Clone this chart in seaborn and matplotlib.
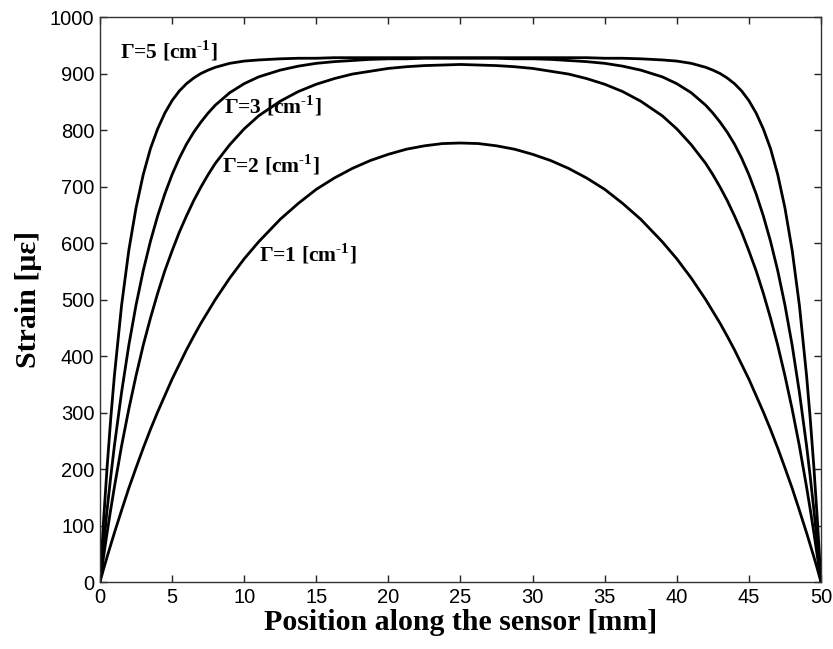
import matplotlib
matplotlib.use("Agg")
import matplotlib.pyplot as plt
import seaborn as sns

# -------------------------------
# Data
# -------------------------------
position_mm = [0, 0.25, 0.5, 0.75, 1, 1.5, 2, 2.5, 3, 3.5, 4, 4.5, 5, 5.5, 6, 6.5, 7, 7.5, 8, 9, 10, 11,
               12.5, 13.75, 15, 16.25, 17.5, 18.75, 20, 21.25, 22.5, 23.75,
               25,
               26.25, 27.5, 28.75, 30, 31.25, 32.5, 33.75, 35, 36.25, 37.5, 39, 40, 41, 42, 42.5, 43,
               43.5, 44, 44.5, 45, 45.5, 46, 46.5, 47, 47.5, 48, 48.5, 49, 49.25, 49.5, 49.75, 50]

strain_g5 = [0, 109, 205, 290, 365, 490, 587, 662, 721, 767, 802, 830, 852, 869, 882, 892, 900, 906, 911, 918,
             922, 924, 926, 927, 927, 928, 928, 928, 928, 928, 928, 928,
             928,
             928, 928, 928, 928, 928, 928, 928, 927, 927, 926, 924, 922, 918, 911, 906, 900,
             892, 882, 869, 852, 830, 802, 767, 721, 662, 587, 490, 365, 290, 205, 109, 0]

strain_g3 = [0, 67, 129, 187, 241, 336, 419, 490, 551, 603, 648, 687, 721, 750, 775, 796, 814, 830, 844, 866,
             882, 894, 906, 913, 918, 921, 923, 925, 926, 926, 927, 927,
             927,
             927, 927, 926, 926, 925, 923, 921, 918, 913, 906, 894, 882, 866, 844, 830, 814,
             796, 775, 750, 721, 687, 648, 603, 551, 490, 419, 336, 241, 187, 129, 67, 0]

strain_g2 = [0, 45, 88, 129, 168, 241, 306, 365, 419, 467, 511, 551, 586, 619, 648, 675, 699, 721, 741, 774,
             802, 825, 851, 868, 881, 891, 899, 904, 909, 912, 914, 915,
             916,
             915, 914, 912, 909, 904, 899, 891, 881, 868, 851, 825, 802, 774, 741, 721, 699,
             675, 648, 619, 586, 551, 511, 467, 419, 365, 306, 241, 168, 129, 88, 45, 0]

strain_g1 = [0, 23, 45, 66, 87, 127, 166, 202, 237, 270, 301, 330, 359, 385, 411, 435, 458, 479, 500, 538,
             572, 602, 642, 670, 695, 715, 732, 746, 757, 766, 772, 776,
             777,
             776, 772, 766, 757, 746, 732, 715, 695, 670, 642, 602, 572, 538, 500, 479, 458,
             435, 411, 385, 359, 330, 301, 270, 237, 202, 166, 127, 87, 66, 45, 23, 0]

curve_labels = ["\u0393=5 [cm$^{\\text{-1}}$]",
                "\u0393=3 [cm$^{\\text{-1}}$]",
                "\u0393=2 [cm$^{\\text{-1}}$]",
                "\u0393=1 [cm$^{\\text{-1}}$]"]
label_x = [1.4, 8.6, 8.45, 11.0]
label_y = [940, 842, 738, 580]

x_ticks = list(range(0, 51, 5))
y_ticks = list(range(0, 1001, 100))

# -------------------------------
# Style
# -------------------------------
sns.set_style("ticks")
plt.rcParams["font.family"] = ["Liberation Sans", "DejaVu Sans"]
plt.rcParams["text.color"] = "black"
plt.rcParams["axes.labelcolor"] = "black"
plt.rcParams["mathtext.fontset"] = "custom"
plt.rcParams["mathtext.rm"] = "Liberation Serif:bold"

fig = plt.figure(figsize=(8.33, 6.49), dpi=100)
ax = fig.add_axes([0.120, 0.1032, 0.8656, 0.8706])

for vals in [strain_g5, strain_g3, strain_g2, strain_g1]:
    sns.lineplot(x=position_mm, y=vals, color="black", linewidth=2.0, ax=ax)

serif_bold = dict(family=["Liberation Serif", "DejaVu Serif"], weight="bold")
for txt, lx, ly in zip(curve_labels, label_x, label_y):
    ax.text(lx, ly, txt, fontsize=15.5, va="center", ha="left", color="black", **serif_bold)

ax.set_xlim(0, 50)
ax.set_ylim(0, 1000)
ax.set_xticks(x_ticks)
ax.set_yticks(y_ticks)
ax.tick_params(direction="in", length=5, width=1, top=True, right=True,
               labeltop=False, labelright=False, labelsize=14.5, colors="#222222",
               labelcolor="black", pad=4)
for sp in ax.spines.values():
    sp.set_color("#333333")
    sp.set_linewidth(1.0)

ax.set_xlabel("Position along the sensor [mm]", fontsize=21.5, labelpad=2, **serif_bold)
ax.set_ylabel("Strain [\u03bc\u03b5]", fontsize=21.5, labelpad=6, **serif_bold)

fig.savefig("out.png", dpi=100)
